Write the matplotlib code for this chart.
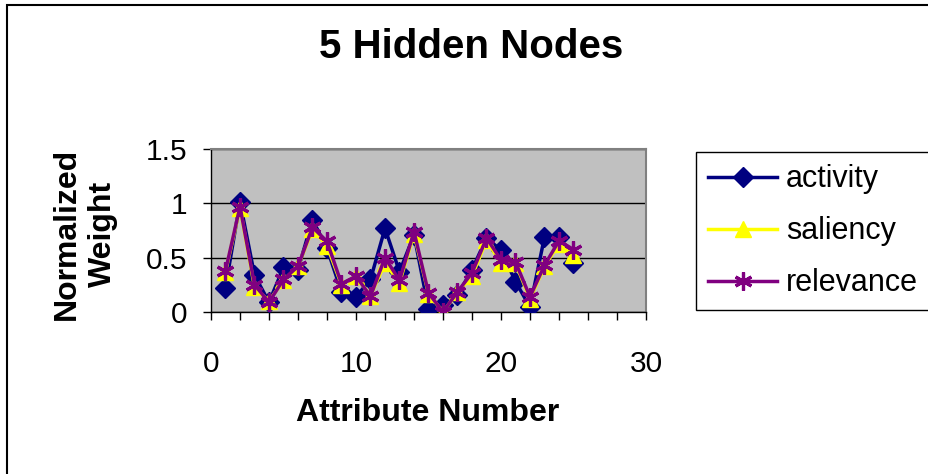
import matplotlib
matplotlib.use("Agg")
import matplotlib.pyplot as plt
from matplotlib.patches import Rectangle

plt.rcParams['font.family'] = ['Liberation Sans', 'DejaVu Sans']

attributes = list(range(1, 26))
activity = [0.225, 1.015, 0.34, 0.09, 0.41, 0.39, 0.85, 0.585, 0.185, 0.14,
            0.30, 0.77, 0.37, 0.71, 0.03, 0.06, 0.155, 0.39, 0.68, 0.57,
            0.28, 0.045, 0.69, 0.69, 0.45]
saliency = [0.37, 0.96, 0.23, 0.10, 0.29, 0.42, 0.76, 0.61, 0.25, 0.33,
            0.15, 0.45, 0.27, 0.72, 0.17, 0.00, 0.18, 0.33, 0.66, 0.45,
            0.45, 0.12, 0.42, 0.63, 0.52]
relevance = [0.38, 0.97, 0.25, 0.09, 0.30, 0.42, 0.78, 0.65, 0.26, 0.33,
             0.145, 0.50, 0.29, 0.74, 0.175, 0.00, 0.185, 0.36, 0.68, 0.48,
             0.46, 0.14, 0.43, 0.655, 0.575]
x_ticks = list(range(0, 31, 2))
x_labels = [str(v) if v % 10 == 0 else '' for v in x_ticks]
y_ticks = [0, 0.5, 1, 1.5]
y_labels = ['0', '0.5', '1', '1.5']

W, H = 929, 474
fig = plt.figure(figsize=(W/100, H/100), dpi=100)
ax = fig.add_axes([211/W, (H-312)/H, (646-211)/W, (312-149)/H])
ax.set_facecolor('#C0C0C0')

ax.plot(attributes, activity, color='#000080', lw=2.5, marker='D', ms=10.5,
        mec='#000080', mfc='#000080', label='activity', zorder=3)
ax.plot(attributes, saliency, color='#FFFF00', lw=2.5, marker='^', ms=11,
        mec='#FFFF00', mfc='#FFFF00', label='saliency', zorder=4)
ax.plot(attributes, relevance, color='#800080', lw=2.5, marker=(6, 2, 0), ms=13,
        mew=2.3, mec='#800080', label='relevance', zorder=5)

ax.set_xlim(0, 30)
ax.set_ylim(0, 1.5)
ax.set_xticks(x_ticks)
ax.set_xticklabels(x_labels)
ax.set_yticks(y_ticks)
ax.set_yticklabels(y_labels)
ax.tick_params(axis='both', direction='out', length=6, width=1, color='#000000',
               labelsize=21.5)
ax.tick_params(axis='y', pad=11)
ax.tick_params(axis='x', pad=21)
ax.grid(axis='y', color='#000000', lw=1, zorder=1)
ax.set_axisbelow(True)
for s in ['top', 'right']:
    ax.spines[s].set_color('#808080')
    ax.spines[s].set_linewidth(1.5)
for s in ['left', 'bottom']:
    ax.spines[s].set_color('#000000')
    ax.spines[s].set_linewidth(1)

fig.text(471/W, 1 - 47/H, '5 Hidden Nodes', ha='center', va='center',
         fontsize=29, fontweight='bold')
fig.text(428/W, 1 - 413/H, 'Attribute Number', ha='center', va='center',
         fontsize=23, fontweight='bold')
fig.text(85/W, 1 - 234/H, 'Normalized\nWeight', ha='center', va='center',
         rotation=90, fontsize=23, fontweight='bold', linespacing=1.25)

leg = fig.legend(loc='upper left', bbox_to_anchor=(696/W, 1 - 152/H),
                 fontsize=22, frameon=True, fancybox=False, edgecolor='#000000',
                 framealpha=1, handlelength=2.25, handletextpad=0.3,
                 labelspacing=0.72, borderpad=0.4, borderaxespad=0)
leg.get_frame().set_linewidth(1)

fig.add_artist(Rectangle((7/W, -0.1), 1.0, (H-5)/H + 0.1, transform=fig.transFigure,
                         fill=False, edgecolor='#000000', lw=1.5))

fig.savefig('out.png', dpi=100)
